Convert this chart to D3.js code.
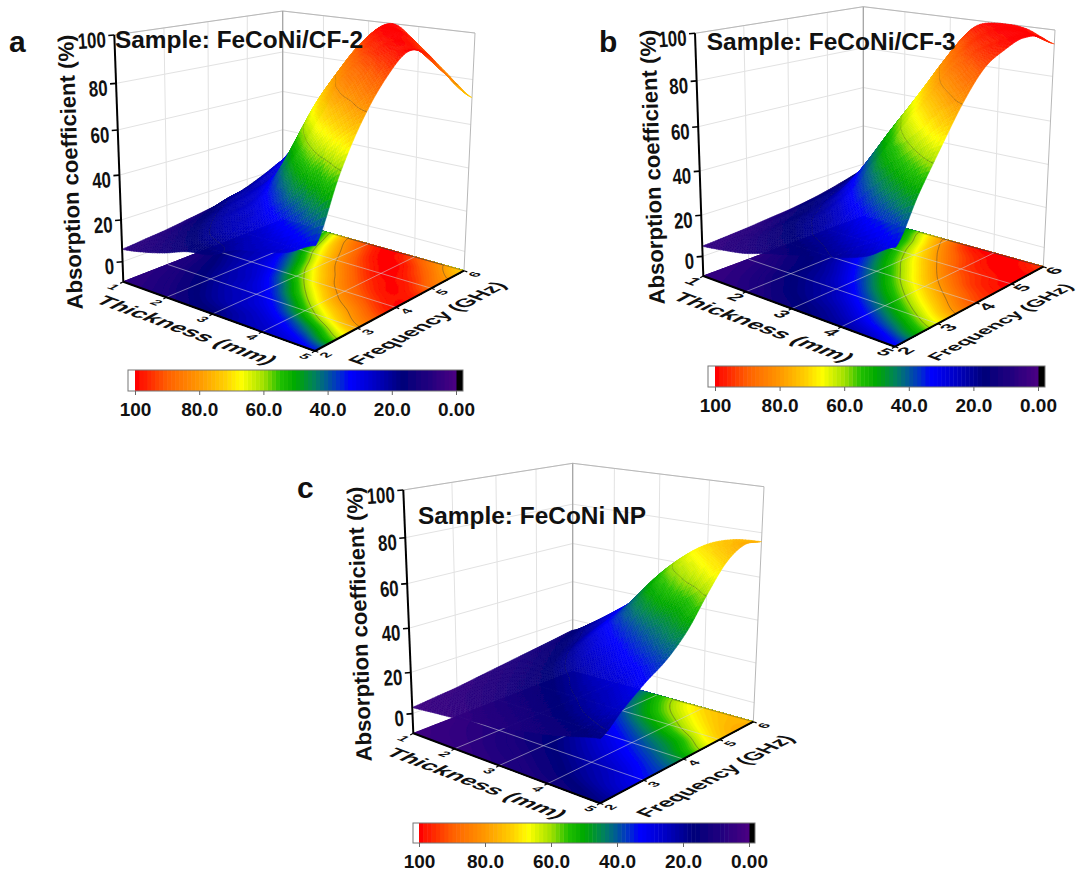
<!DOCTYPE html>
<html>
<head>
<meta charset="utf-8">
<style>
  html, body { margin: 0; background: #fff; }
  text { font-family: "Liberation Sans", Arial, sans-serif; font-weight: bold; fill: #111; }
</style>
<script src="https://cdn.jsdelivr.net/npm/d3@7"></script>
</head>
<body>
<div id="chart"></div>
<script>
// values
var thickness = [1, 1.5, 2, 2.5, 3, 3.5, 4, 4.5, 5];
var frequency = [2, 2.5, 3, 3.5, 4, 4.5, 5, 5.5, 6];
var thicknessTicks = [1, 2, 3, 4, 5];
var frequencyTicks = [2, 3, 4, 5, 6];
var coefficientTicks = [0, 20, 40, 60, 80, 100];
var barTicks = [100, 80, 60, 40, 20, 0];
var barLabels = ["100", "80.0", "60.0", "40.0", "20.0", "0.00"];

// rows: thickness, columns: frequency
var absorptionA = [
    [6, 7, 8, 9.5, 11, 13, 16, 20, 24],
    [8, 10, 13, 16, 20, 22, 26, 31, 38],
    [11, 15, 19, 22.5, 25, 28, 34, 43, 54],
    [15, 20, 24, 27, 34, 45, 59, 70, 78],
    [17, 24, 28, 38, 54, 68, 78, 86, 93],
    [22.5, 27, 38, 56, 72, 82, 91, 98, 100],
    [25, 34, 54, 72, 84, 93, 99, 99, 92],
    [28, 45, 68, 82, 93, 99, 97, 90, 82],
    [34, 59, 78, 91, 99, 97, 88, 80, 72]
];
var absorptionB = [
    [5, 5.7, 6.5, 7.5, 8.5, 10, 12, 14.5, 17],
    [6.5, 8, 10, 13.5, 16, 17.5, 20, 24, 30],
    [8.5, 12, 16, 18, 21, 25, 32, 39, 46],
    [12, 16.5, 20, 24, 32, 41, 50, 57, 66],
    [15, 20, 25, 35, 46, 57, 66, 75, 83],
    [18, 24, 35, 48, 60, 70, 80, 89, 97],
    [21, 32, 46, 60, 72, 83, 92, 97, 100],
    [25, 41, 57, 71, 83, 93, 97, 100, 99],
    [32, 50, 66, 81, 92, 97, 100, 99, 94]
];
var absorptionC = [
    [3, 4, 5, 6.5, 8, 9.5, 11, 12.5, 14],
    [4, 5.5, 7, 8.5, 10.5, 12.5, 15, 18, 21],
    [5, 7, 9, 11.5, 14, 17, 20.5, 24.5, 29],
    [6.5, 9, 12, 15, 19, 24, 30, 34, 38],
    [8, 11, 15, 19, 25, 31, 39, 46, 52],
    [10, 14, 19, 24, 30, 38, 48, 57, 63],
    [12, 18, 23, 29, 36, 45, 56, 65, 71],
    [15, 22, 27, 34, 42, 51, 64, 72, 75],
    [18, 26, 33, 39, 48, 61, 72, 77, 76]
];

// layout of the three boxes
var panels = [
    {
        letter: "a", letterPos: [9, 52], title: "Sample: FeCoNi/CF-2", titlePos: [115, 48], titleLen: 248,
        values: absorptionA, tickSize: 14,
        floor: [[123.3, 281.7], [315, 351], [464, 270.7], [282.7, 220]],
        top: [[114.3, 35], [317, 72], [475, 33], [282.7, 11]],
        zLabel: [70, 172], tLabel: [187, 330], fLabel: [427, 323], fLen: 168, fSize: 23, bar: [128, 135, 456, 463, 370, 391]
    },
    {
        letter: "b", letterPos: [599, 52], title: "Sample: FeCoNi/CF-3", titlePos: [706.7, 50], titleLen: 249,
        values: absorptionB, tickSize: 19,
        floor: [[703.3, 276], [895, 346.7], [1043.3, 266.7], [863.3, 216.7]],
        top: [[695, 33.3], [897, 70], [1055, 30], [863.3, 6.7]],
        zLabel: [652, 167], tLabel: [764, 327], fLabel: [1000, 322], fLen: 156, fSize: 20, bar: [708, 715, 1038, 1045, 366, 387]
    },
    {
        letter: "c", letterPos: [297, 498], title: "Sample: FeCoNi NP", titlePos: [418, 524], titleLen: 228,
        values: absorptionC, tickSize: 14,
        floor: [[413.3, 733.3], [600, 803.3], [753.3, 721.7], [572.7, 671.7]],
        top: [[403.3, 490], [602, 526], [764, 486.7], [572.7, 463.3]],
        zLabel: [359, 624], tLabel: [477, 783], fLabel: [715, 776], fLen: 168, fSize: 23, bar: [413, 419, 749, 755, 823, 843]
    }
];

var svg = d3.select("#chart").append("svg")
    .attr("width", 1086)
    .attr("height", 875);

svg.append("defs").append("filter")
    .attr("id", "soft")
    .append("feGaussianBlur")
    .attr("stdDeviation", 0.55);

// colour map of the bar, cut in bands
var bandStep = 1.25;
var colorRamp = d3.scaleLinear()
    .domain([0, 8, 17, 25, 33, 40, 44, 50, 55, 60, 67, 72, 80, 90, 100])
    .range(["#4b0082", "#24007f", "#00007a", "#0000c0", "#0000ff", "#00569c", "#008060", "#00a800",
            "#20c000", "#a0e000", "#ffff00", "#ffd000", "#ff9900", "#ff6000", "#ff0000"])
    .clamp(true);
function bandColor(v) {
    return colorRamp(Math.floor(Math.min(v, 99.9) / bandStep) * bandStep + bandStep / 2);
}

var tScale = d3.scaleLinear().domain([1, 5]).range([0, 1]);
var fScale = d3.scaleLinear().domain([2, 6]).range([0, 1]);
// height along a vertical edge of the box, not quite even in the picture
var zScale = d3.scaleLinear()
    .domain([-9, 0, 20, 40, 60, 80, 100])
    .range([0, 0.081, 0.25, 0.432, 0.615, 0.804, 1]);

// unit square -> quad
function homography(q) {
    var sx = q[0][0] - q[1][0] + q[2][0] - q[3][0],
        sy = q[0][1] - q[1][1] + q[2][1] - q[3][1],
        dx1 = q[1][0] - q[2][0], dx2 = q[3][0] - q[2][0],
        dy1 = q[1][1] - q[2][1], dy2 = q[3][1] - q[2][1],
        den = dx1 * dy2 - dx2 * dy1,
        g = (sx * dy2 - dx2 * sy) / den,
        h = (dx1 * sy - sx * dy1) / den,
        a = q[1][0] - q[0][0] + g * q[1][0],
        b = q[3][0] - q[0][0] + h * q[3][0],
        d = q[1][1] - q[0][1] + g * q[1][1],
        e = q[3][1] - q[0][1] + h * q[3][1];
    return function(u, v) {
        var w = g * u + h * v + 1;
        return [(a * u + b * v + q[0][0]) / w, (d * u + e * v + q[0][1]) / w];
    };
}

function catmull(p0, p1, p2, p3, s) {
    return 0.5 * (2 * p1 + (p2 - p0) * s + (2 * p0 - 5 * p1 + 4 * p2 - p3) * s * s + (3 * p1 - p0 - 3 * p2 + p3) * s * s * s);
}

// smooth reading of a table at (t, f)
function sampler(table) {
    var n = table.length - 1, m = table[0].length - 1;
    function cell(i, j) {
        return table[Math.max(0, Math.min(n, i))][Math.max(0, Math.min(m, j))];
    }
    return function(t, f) {
        var a = (t - thickness[0]) / (thickness[1] - thickness[0]),
            b = (f - frequency[0]) / (frequency[1] - frequency[0]),
            i = Math.min(n - 1, Math.floor(a)), j = Math.min(m - 1, Math.floor(b)),
            rows = [];
        for (var r = -1; r <= 2; r++) {
            rows.push(catmull(cell(i + r, j - 1), cell(i + r, j), cell(i + r, j + 1), cell(i + r, j + 2), b - j));
        }
        return Math.max(0, Math.min(100, catmull(rows[0], rows[1], rows[2], rows[3], a - i)));
    };
}

function drawPanel(p) {
    var g = svg.append("g").attr("class", "panel-" + p.letter),
        floorMap = homography(p.floor),
        topMap = homography(p.top),
        value = sampler(p.values);

    function project(t, f, z) {
        var a = floorMap(tScale(t), fScale(f)),
            b = topMap(tScale(t), fScale(f)),
            s = zScale(z);
        return [a[0] + (b[0] - a[0]) * s, a[1] + (b[1] - a[1]) * s];
    }
    var zMin = zScale.domain()[0], zMax = 100;
    var line = d3.line();

    function seg(parent, a, b, stroke, width, opacity) {
        parent.append("path")
            .attr("d", line([a, b]))
            .attr("fill", "none")
            .attr("stroke", stroke)
            .attr("stroke-width", width)
            .attr("stroke-opacity", opacity === undefined ? 1 : opacity);
    }

    // walls
    var walls = g.append("g");
    coefficientTicks.forEach(function(z) {
        seg(walls, project(1, 2, z), project(1, 6, z), "#e2e2e2", 1);
        seg(walls, project(1, 6, z), project(5, 6, z), "#e2e2e2", 1);
    });
    [3, 4, 5].forEach(function(f) {
        seg(walls, project(1, f, zMin), project(1, f, zMax), "#e2e2e2", 1);
    });
    [2, 3, 4].forEach(function(t) {
        seg(walls, project(t, 6, zMin), project(t, 6, zMax), "#e2e2e2", 1);
    });
    seg(walls, project(1, 2, zMax), project(1, 6, zMax), "#b8b8b8", 1);
    seg(walls, project(1, 6, zMax), project(5, 6, zMax), "#b8b8b8", 1);
    seg(walls, project(5, 6, zMin), project(5, 6, zMax), "#b8b8b8", 1);
    seg(walls, project(1, 6, zMin), project(1, 6, zMax), "#a4a4a4", 1.3);

    // floor: filled contours of the same table
    var size = 121, grid = new Array(size * size);
    for (var j = 0; j < size; j++) {
        for (var i = 0; i < size; i++) {
            grid[j * size + i] = value(1 + 4 * j / (size - 1), 2 + 4 * i / (size - 1));
        }
    }
    var floorPath = d3.geoPath(d3.geoTransform({
        point: function(x, y) {
            var c = floorMap(Math.max(0, Math.min(1, (y - 0.5) / (size - 1))),
                             Math.max(0, Math.min(1, (x - 0.5) / (size - 1))));
            this.stream.point(c[0], c[1]);
        }
    }));
    var contours = d3.contours().size([size, size]);
    var floorLayer = g.append("g").attr("filter", "url(#soft)");
    floorLayer.selectAll("path.band")
        .data(contours.thresholds(d3.range(0, 100, bandStep))(grid))
        .enter().append("path")
        .attr("class", "band")
        .attr("d", floorPath)
        .attr("fill", function(d) { return bandColor(d.value); })
        .attr("stroke", function(d) { return bandColor(d.value); })
        .attr("stroke-width", 0.4);
    floorLayer.selectAll("path.iso")
        .data(contours.thresholds([60, 80])(grid))
        .enter().append("path")
        .attr("class", "iso")
        .attr("d", floorPath)
        .attr("fill", "none")
        .attr("stroke", "#3a3a3a")
        .attr("stroke-opacity", 0.55)
        .attr("stroke-width", 0.8);

    // floor grid
    var floorGrid = g.append("g");
    [2, 3, 4].forEach(function(t) {
        seg(floorGrid, project(t, 2, zMin), project(t, 6, zMin), "#d4d4d8", 1, 0.55);
    });
    [3, 4, 5].forEach(function(f) {
        seg(floorGrid, project(1, f, zMin), project(5, f, zMin), "#d4d4d8", 1, 0.55);
    });

    // surface, from the far corner (t=1, f=6) towards the viewer
    var surface = g.append("g").attr("filter", "url(#soft)"),
        steps = 72,
        dt = 4 / steps, df = 4 / steps,
        levels = [20, 60, 80];
    for (var a = 0; a < steps; a++) {
        for (var b = steps - 1; b >= 0; b--) {
            var t0 = 1 + a * dt, t1 = t0 + dt,
                f0 = 2 + b * df, f1 = f0 + df,
                z00 = value(t0, f0), z10 = value(t1, f0), z11 = value(t1, f1), z01 = value(t0, f1),
                mean = (z00 + z10 + z11 + z01) / 4,
                col = bandColor(mean);
            surface.append("path")
                .attr("d", line([project(t0, f0, z00), project(t1, f0, z10), project(t1, f1, z11), project(t0, f1, z01)]) + "Z")
                .attr("fill", col)
                .attr("stroke", col)
                .attr("stroke-width", 0.5);
            levels.forEach(function(level) {
                var pts = [];
                function cross(ta, fa, za, tb, fb, zb) {
                    if ((za < level) !== (zb < level)) {
                        var s = (level - za) / (zb - za);
                        pts.push(project(ta + (tb - ta) * s, fa + (fb - fa) * s, level));
                    }
                }
                cross(t0, f0, z00, t1, f0, z10);
                cross(t1, f0, z10, t1, f1, z11);
                cross(t1, f1, z11, t0, f1, z01);
                cross(t0, f1, z01, t0, f0, z00);
                if (pts.length === 2) {
                    seg(surface, pts[0], pts[1], "#3a3a3a", 0.8, 0.5);
                }
            });
        }
    }

    // axes
    var axes = g.append("g");
    seg(axes, project(1, 2, zMin), project(1, 2, zMax), "#000", 2);
    seg(axes, project(1, 2, zMin), project(5, 2, zMin), "#000", 2);
    seg(axes, project(5, 2, zMin), project(5, 6, zMin), "#000", 2);

    coefficientTicks.forEach(function(z) {
        var c = project(1, 2, z);
        seg(axes, c, [c[0] - 6, c[1] + 0.5], "#000", 1.6);
        axes.append("text")
            .attr("transform", "translate(" + (c[0] - 8) + "," + (c[1] + 12) + ") rotate(-4)")
            .attr("text-anchor", "end")
            .attr("font-size", 22)
            .attr("textLength", String(z).length * 9.4)
            .attr("lengthAdjust", "spacingAndGlyphs")
            .text(z);
    });

    // text lying on the floor: x along one edge, y along the other
    function unit(a, b) {
        var dx = b[0] - a[0], dy = b[1] - a[1], l = Math.hypot(dx, dy);
        return [dx / l, dy / l];
    }
    var tDir = unit(project(1, 2, zMin), project(5, 2, zMin)),
        fDir = unit(project(5, 2, zMin), project(5, 6, zMin));

    function floorText(text, pos, xDir, yDir, size, len) {
        var flat = 0.9;
        var node = axes.append("text")
            .attr("transform", "matrix(" + [xDir[0], xDir[1], yDir[0] * flat, yDir[1] * flat, pos[0], pos[1]].join(",") + ")")
            .attr("text-anchor", "middle")
            .attr("dy", "0.36em")
            .attr("font-size", size)
            .text(text);
        if (len) {
            node.attr("textLength", len).attr("lengthAdjust", "spacingAndGlyphs");
        }
    }
    var outT = [-fDir[0], -fDir[1]];

    thicknessTicks.forEach(function(t) {
        var c = project(t, 2, zMin);
        seg(axes, c, [c[0] + outT[0] * 3.5, c[1] + outT[1] * 3.5], "#000", 1.2);
        floorText(t, [c[0] + outT[0] * 11, c[1] + outT[1] * 11], tDir, outT, p.tickSize);
    });
    frequencyTicks.forEach(function(f) {
        var c = project(5, f, zMin);
        seg(axes, c, [c[0] + tDir[0] * 3.5, c[1] + tDir[1] * 3.5], "#000", 1.2);
        floorText(f, [c[0] + tDir[0] * 11, c[1] + tDir[1] * 11], fDir, tDir, p.tickSize);
    });

    floorText("Thickness (mm)", p.tLabel, tDir, outT, 23, 185);
    floorText("Frequency (GHz)", p.fLabel, fDir, tDir, p.fSize, p.fLen);

    axes.append("text")
        .attr("transform", "translate(" + p.zLabel[0] + "," + p.zLabel[1] + ") rotate(-92)")
        .attr("text-anchor", "middle")
        .attr("dy", "0.36em")
        .attr("font-size", 22)
        .attr("textLength", 275)
        .attr("lengthAdjust", "spacingAndGlyphs")
        .text("Absorption coefficient (%)");

    // headings
    g.append("text")
        .attr("x", p.letterPos[0])
        .attr("y", p.letterPos[1])
        .attr("font-size", 30)
        .text(p.letter);
    g.append("text")
        .attr("x", p.titlePos[0])
        .attr("y", p.titlePos[1])
        .attr("font-size", 23)
        .attr("textLength", p.titleLen)
        .attr("lengthAdjust", "spacingAndGlyphs")
        .text(p.title);

    // colour bar
    var barX = d3.scaleLinear().domain([100, 0]).range([p.bar[1], p.bar[2]]),
        barTop = p.bar[4], barBottom = p.bar[5],
        bar = g.append("g");
    bar.append("rect")
        .attr("x", p.bar[0]).attr("y", barTop)
        .attr("width", p.bar[1] - p.bar[0]).attr("height", barBottom - barTop)
        .attr("fill", "#fff");
    bar.append("rect")
        .attr("x", p.bar[2]).attr("y", barTop)
        .attr("width", p.bar[3] - p.bar[2]).attr("height", barBottom - barTop)
        .attr("fill", "#000");
    bar.append("g")
        .attr("filter", "url(#soft)")
        .selectAll("rect.band")
        .data(d3.range(0, 100, bandStep))
        .enter().append("rect")
        .attr("class", "band")
        .attr("x", function(d) { return barX(d + bandStep); })
        .attr("y", barTop)
        .attr("width", function(d) { return barX(d) - barX(d + bandStep) + 0.5; })
        .attr("height", barBottom - barTop)
        .attr("fill", function(d) { return bandColor(d + 0.1); });
    bar.append("rect")
        .attr("x", p.bar[0]).attr("y", barTop)
        .attr("width", p.bar[3] - p.bar[0]).attr("height", barBottom - barTop)
        .attr("fill", "none")
        .attr("stroke", "#777")
        .attr("stroke-width", 1);

    var barAxis = d3.axisBottom(barX)
        .tickValues(barTicks)
        .tickSize(4)
        .tickFormat(function(d, i) { return barLabels[i]; });
    var axisG = bar.append("g")
        .attr("transform", "translate(0," + barBottom + ")")
        .call(barAxis);
    axisG.select(".domain").remove();
    axisG.selectAll("line").attr("stroke", "#666");
    axisG.selectAll("text")
        .attr("y", 12)
        .attr("font-size", 19)
        .attr("font-family", "'Liberation Sans', Arial, sans-serif")
        .attr("font-weight", "bold")
        .attr("fill", "#111");
}

panels.forEach(drawPanel);
</script>
</body>
</html>
